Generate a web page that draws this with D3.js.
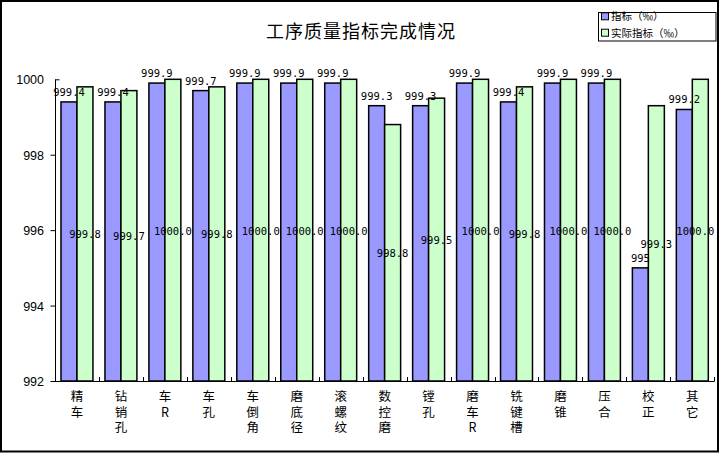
<!DOCTYPE html>
<html><head><meta charset="utf-8">
<script src="https://cdn.jsdelivr.net/npm/d3@7"></script>
<style>
html,body{margin:0;padding:0;background:#fff;}
svg{display:block;}
.vlab{writing-mode:vertical-rl;text-orientation:upright;}
</style></head>
<body>
<svg id="chart" width="721" height="453"></svg>
<script>
const title = "工序质量指标完成情况";
const categories = ["精车","钻销孔","车R","车孔","车倒角","磨底径","滚螺纹","数控磨","镗孔","磨车R","铣键槽","磨锥","压合","校正","其它"];
const seriesNames = ["指标（‰）","实际指标（‰）"];
const targetValues = [999.4,999.4,999.9,999.7,999.9,999.9,999.9,999.3,999.3,999.9,999.4,999.9,999.9,995,999.2];
const actualValues = [999.8,999.7,1000.0,999.8,1000.0,1000.0,1000.0,998.8,999.5,1000.0,999.8,1000.0,1000.0,999.3,1000.0];
const targetLabels = ["999.4","999.4","999.9","999.7","999.9","999.9","999.9","999.3","999.3","999.9","999.4","999.9","999.9","995","999.2"];
const actualLabels = ["999.8","999.7","1000.0","999.8","1000.0","1000.0","1000.0","998.8","999.5","1000.0","999.8","1000.0","1000.0","999.3","1000.0"];
const yTicks = [992,994,996,998,1000];
const colors = ["#9999FF","#CCFFCC"];

const svg = d3.select("#chart");
const plot = {left:55, right:714.3, top:79.3, bottom:381};

// outer border
svg.append("rect").attr("x",1).attr("y",1).attr("width",717).attr("height",450.5)
  .attr("fill","#fff").attr("stroke","#000").attr("stroke-width",2);

// title
svg.append("text").attr("x",361).attr("y",37.5).attr("text-anchor","middle")
  .attr("font-family","'Noto Sans CJK SC'").attr("font-size",18).attr("letter-spacing",1)
  .text(title);

const x0 = d3.scaleBand().domain(categories).range([plot.left, plot.right]).padding(0);
const x1 = d3.scaleBand().domain([0,1]).range([6, x0.bandwidth()-6]).padding(0);
const y = d3.scaleLinear().domain([992,1000]).range([plot.bottom, plot.top]);

const data = categories.map((c,i)=>({c, vals:[targetValues[i], actualValues[i]], labs:[targetLabels[i], actualLabels[i]]}));

// bars
const g = svg.append("g");
const groups = g.selectAll("g.cat").data(data).join("g").attr("class","cat")
  .attr("transform", d=>`translate(${x0(d.c)},0)`);
groups.selectAll("rect").data(d=>d.vals.map((v,k)=>({v,k}))).join("rect")
  .attr("x", d=>x1(d.k)).attr("width", x1.bandwidth())
  .attr("y", d=>y(d.v)).attr("height", d=>y(992)-y(d.v))
  .attr("fill", d=>colors[d.k]).attr("stroke","#000").attr("stroke-width",1.5);

// y axis
const yAxis = svg.append("g").attr("transform",`translate(${plot.left},0)`)
  .call(d3.axisLeft(y).tickValues(yTicks).tickSize(5).tickFormat(d3.format("d")));
yAxis.select(".domain").attr("d",`M0.5,${plot.top}V${plot.bottom}`).attr("stroke","#000");
yAxis.selectAll(".tick line").attr("stroke","#000").attr("transform","translate(0.5,0)");
yAxis.selectAll(".tick").filter(d=>d===1000).select("line").attr("x2",4);
yAxis.selectAll(".tick text").attr("x",-11).attr("dy","0.36em")
  .attr("font-family","'Liberation Sans', Arial").attr("font-size",12.5).attr("fill","#000");

// x axis
const xAxis = svg.append("g").attr("transform",`translate(0,${plot.bottom})`);
xAxis.append("line").attr("x1",plot.left).attr("x2",plot.right).attr("y1",0.5).attr("y2",0.5).attr("stroke","#000");
const bounds = categories.map(c=>x0(c)).concat([plot.right]);
xAxis.selectAll("line.tk").data(bounds).join("line").attr("class","tk")
  .attr("x1",d=>Math.round(d)+0.5).attr("x2",d=>Math.round(d)+0.5).attr("y1",0.5).attr("y2",-4)
  .attr("stroke","#000");

// category labels (vertical text, one char per line)
svg.append("g").selectAll("text.vlab").data(data).join("text").attr("class","vlab")
  .attr("x", d=>x0(d.c) + x0.bandwidth()/2).attr("y", 390)
  .attr("font-family","'Noto Sans CJK SC'").attr("font-size",12.5).attr("letter-spacing",3)
  .text(d=>d.c);

// value labels
const labG = svg.append("g").attr("font-family","'DejaVu Sans Mono'").attr("font-size",10.5);
data.forEach(d=>{
  const bx = x0(d.c);
  labG.append("text").attr("text-anchor","middle")
    .attr("x", bx + x1(0) + x1.bandwidth()/2).attr("y", y(d.vals[0]) - 6).text(d.labs[0]);
  const cx = bx + x1(1) + x1.bandwidth()/2;
  const t2 = labG.append("text").attr("text-anchor","middle")
    .attr("y", (y(d.vals[1]) + y(992))/2 + 4.5).text(d.labs[1]);
  t2.attr("x", cx);
  const w = t2.node().getComputedTextLength();
  if (cx + w/2 > plot.right) t2.attr("x", plot.right - w/2);
});

// legend
const lg = svg.append("g");
lg.append("rect").attr("x",598.5).attr("y",12.5).attr("width",117.5).attr("height",28.5)
  .attr("fill","#fff").attr("stroke","#000").attr("stroke-width",1);
seriesNames.forEach((n,i)=>{
  const cy = 16.3 + i*16.4;
  lg.append("rect").attr("x",601.5).attr("y",cy-3.5).attr("width",7).attr("height",7)
    .attr("fill",colors[i]).attr("stroke","#000").attr("stroke-width",1);
  lg.append("text").attr("x",611).attr("y",cy+4).attr("font-family","'Noto Sans CJK SC'")
    .attr("font-size",10.5).text(n);
});
</script>
</body></html>
